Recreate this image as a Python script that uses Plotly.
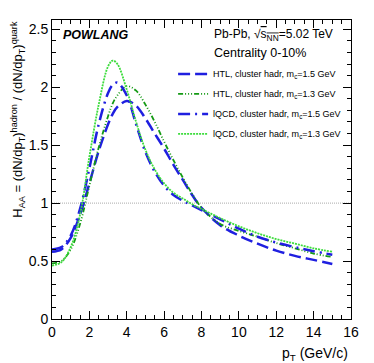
import plotly.graph_objects as go

# pT grid (GeV/c)
pt = [0, 0.5, 1, 1.5, 2, 2.5, 3, 3.25, 3.5, 4, 4.5, 5, 5.5, 6, 6.5, 7, 7.5, 8,
      9, 10, 11, 12, 13, 14, 15]

# H_AA curves
htl_15 = [0.58, 0.60, 0.70, 0.90, 1.17, 1.45, 1.68, 1.77, 1.83, 1.88, 1.84, 1.73, 1.60, 1.47, 1.33,
          1.20, 1.07, 0.96, 0.81, 0.72, 0.65, 0.59, 0.545, 0.51, 0.475]
htl_13 = [0.48, 0.50, 0.60, 0.82, 1.15, 1.48, 1.75, 1.86, 1.93, 2.01, 1.97, 1.85, 1.70, 1.53, 1.37,
          1.22, 1.08, 0.96, 0.82, 0.76, 0.71, 0.655, 0.61, 0.565, 0.535]
lqcd_15 = [0.60, 0.62, 0.72, 0.95, 1.30, 1.68, 1.95, 2.02, 2.04, 1.93, 1.68, 1.44, 1.27, 1.15, 1.07,
           1.02, 0.98, 0.94, 0.86, 0.78, 0.71, 0.66, 0.62, 0.585, 0.555]
lqcd_13 = [0.46, 0.49, 0.62, 0.90, 1.40, 1.85, 2.18, 2.23, 2.20, 1.98, 1.70, 1.46, 1.29, 1.17, 1.09,
           1.04, 0.99, 0.95, 0.87, 0.80, 0.74, 0.69, 0.65, 0.61, 0.58]

series = [
    ("HTL, cluster hadr, m<sub>c</sub>=1.5 GeV", htl_15, "#1f1fe0", "12px,5px", 2.5),
    ("HTL, cluster hadr, m<sub>c</sub>=1.3 GeV", htl_13, "#149a14", "5px,2px,1px,2px,1px,2px,1px,2px", 1.8),
    ("lQCD, cluster hadr, m<sub>c</sub>=1.5 GeV", lqcd_15, "#1f1fe0", "12px,5px,2px,5px", 2.5),
    ("lQCD, cluster hadr, m<sub>c</sub>=1.3 GeV", lqcd_13, "#3ddc3d", "2px,1px", 1.8),
]

FONT = "Liberation Sans, Arial"

fig = go.Figure()

# reference line at 1
fig.add_trace(go.Scatter(x=[0, 16], y=[1, 1], mode="lines", showlegend=False,
                         line=dict(color="#aaaaaa", width=1, dash="1px,1px"), hoverinfo="skip"))

for i, (name, vals, col, dash, w) in enumerate(series):
    fig.add_trace(go.Scatter(x=pt, y=vals, mode="lines", name=name, legendgroup=str(i),
                             line=dict(color=col, width=w, dash=dash, shape="spline", smoothing=1.0)))

axis_common = dict(showline=True, linecolor="black", linewidth=1, mirror="ticks",
                   ticks="inside", ticklen=8, tickcolor="black", showgrid=False, zeroline=False,
                   tickfont=dict(family=FONT, size=14, color="black"))

fig.update_xaxes(range=[0, 16], dtick=2, tick0=0,
                 minor=dict(dtick=0.5, ticks="inside", ticklen=4, tickcolor="black"),
                 **axis_common)
fig.update_yaxes(range=[0, 2.58], dtick=0.5, tick0=0,
                 minor=dict(dtick=0.1, ticks="inside", ticklen=4, tickcolor="black"),
                 **axis_common)

fig.add_annotation(xref="paper", yref="paper", x=0.997, y=-0.08, xanchor="right", yanchor="top",
                   text="p<sub>T</sub> (GeV/c)", showarrow=False,
                   font=dict(family=FONT, size=14, color="black"))
fig.add_annotation(xref="paper", yref="paper", x=-0.078, y=1.005, xanchor="right", yanchor="top",
                   textangle=-90,
                   text="H<sub>AA</sub> = (dN/dp<sub>T</sub>)<sup>hadron</sup> / (dN/dp<sub>T</sub>)<sup>quark</sup>",
                   showarrow=False, font=dict(family=FONT, size=13, color="black"))
fig.add_annotation(xref="paper", yref="paper", x=0.03, y=0.95, xanchor="left", yanchor="middle",
                   text="<b><i>POWLANG</i></b>", showarrow=False,
                   font=dict(family=FONT, size=12.5, color="black"))
fig.add_annotation(xref="paper", yref="paper", x=0.535, y=0.95, xanchor="left", yanchor="middle",
                   text="Pb-Pb, √<span style='text-decoration:overline'>s<sub>NN</sub></span>=5.02 TeV",
                   showarrow=False, font=dict(family=FONT, size=12, color="black"))
fig.add_annotation(xref="paper", yref="paper", x=0.535, y=0.89, xanchor="left", yanchor="middle",
                   text="Centrality 0-10%", showarrow=False,
                   font=dict(family=FONT, size=12.5, color="black"))

fig.update_layout(
    width=374, height=363,
    margin=dict(l=52, r=23, t=20, b=44),
    paper_bgcolor="white", plot_bgcolor="white",
    legend=dict(x=0.405, y=0.868, xanchor="left", yanchor="top", bgcolor="rgba(0,0,0,0)",
                font=dict(family=FONT, size=9, color="black"),
                tracegroupgap=1),
)

fig.write_html("out.html", config={"displayModeBar": False},
               post_script="document.body.style.margin='0';")
